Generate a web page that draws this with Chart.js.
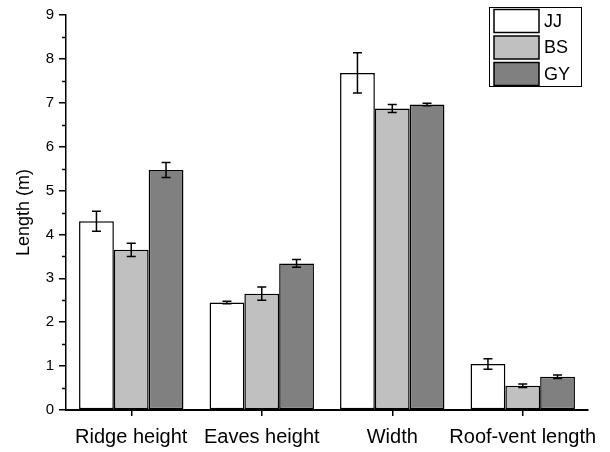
<!DOCTYPE html>
<html>
<head>
<meta charset="utf-8">
<script src="https://cdn.jsdelivr.net/npm/chart.js@4/dist/chart.umd.min.js"></script>
<style>
  html, body { margin: 0; padding: 0; background: #fff; }
  #wrap { width: 610px; height: 452px; }
</style>
</head>
<body>
<div id="wrap"><canvas id="c" width="610" height="452"></canvas></div>
<script>
// Greenhouse dimensions by site
const categories = ['Ridge height', 'Eaves height', 'Width', 'Roof-vent length'];
const seriesNames = ['JJ', 'BS', 'GY'];

const jjMean = [4.30, 2.45, 7.68, 1.05];
const jjErr  = [0.23, 0.03, 0.46, 0.12];
const bsMean = [3.65, 2.65, 6.87, 0.55];
const bsErr  = [0.15, 0.15, 0.09, 0.04];
const gyMean = [5.47, 3.34, 6.96, 0.76];
const gyErr  = [0.17, 0.09, 0.03, 0.04];

const fills = ['#ffffff', '#c0c0c0', '#808080'];
const FONT = "'Liberation Sans', Arial, sans-serif";

const errors = [jjErr, bsErr, gyErr];

// Error bars drawn on top of each bar
const errorBars = {
  id: 'errorBars',
  afterDatasetsDraw(chart) {
    const ctx = chart.ctx;
    const y = chart.scales.y;
    ctx.save();
    ctx.strokeStyle = '#000';
    ctx.lineWidth = 1.5;
    chart.data.datasets.forEach((ds, di) => {
      const meta = chart.getDatasetMeta(di);
      meta.data.forEach((bar, i) => {
        const v = ds.data[i], e = errors[di][i];
        const top = y.getPixelForValue(v + e);
        const bot = y.getPixelForValue(v - e);
        const half = 4.5;
        ctx.beginPath();
        ctx.moveTo(bar.x, top); ctx.lineTo(bar.x, bot);
        ctx.moveTo(bar.x - half, top); ctx.lineTo(bar.x + half, top);
        ctx.moveTo(bar.x - half, bot); ctx.lineTo(bar.x + half, bot);
        ctx.stroke();
      });
    });
    ctx.restore();
  }
};

// Minor ticks between the integer ticks on the value axis
const minorTicks = {
  id: 'minorTicks',
  afterDraw(chart) {
    const ctx = chart.ctx;
    const y = chart.scales.y;
    const left = chart.chartArea.left;
    ctx.save();
    ctx.strokeStyle = '#000';
    ctx.lineWidth = 1.5;
    for (let v = y.min + 0.5; v < y.max; v += 1) {
      const py = Math.round(y.getPixelForValue(v)) + 0.5;
      ctx.beginPath();
      ctx.moveTo(left - 4, py);
      ctx.lineTo(left, py);
      ctx.stroke();
    }
    ctx.restore();
  }
};

// Boxed legend in the upper right corner
const boxLegend = {
  id: 'boxLegend',
  afterDraw(chart) {
    const ctx = chart.ctx;
    const x0 = 489.5, y0 = 7.5, w = 92, h = 79;
    ctx.save();
    ctx.fillStyle = '#fff';
    ctx.fillRect(x0, y0, w, h);
    ctx.strokeStyle = '#000';
    ctx.lineWidth = 1;
    ctx.strokeRect(x0, y0, w, h);
    ctx.font = '18px ' + FONT;
    ctx.textBaseline = 'middle';
    chart.data.datasets.forEach((ds, i) => {
      const sy = 9.5 + i * 26.5;
      ctx.fillStyle = ds.backgroundColor;
      ctx.fillRect(494, sy, 45, 23);
      ctx.lineWidth = 1.5;
      ctx.strokeRect(494, sy, 45, 23);
      ctx.fillStyle = '#000';
      ctx.fillText(ds.label, 544, sy + 12.5);
    });
    ctx.restore();
  }
};

const means = [jjMean, bsMean, gyMean];

new Chart(document.getElementById('c'), {
  type: 'bar',
  data: {
    labels: categories,
    datasets: seriesNames.map((name, i) => ({
      label: name,
      data: means[i],
      backgroundColor: fills[i],
      borderColor: '#000',
      borderWidth: 1.5,
      borderSkipped: false,
      barPercentage: 1.0,
      categoryPercentage: 0.8
    }))
  },
  options: {
    responsive: false,
    animation: false,
    devicePixelRatio: 1,
    layout: { padding: { top: 15, right: 22, left: 0, bottom: 0 } },
    plugins: {
      legend: { display: false },
      tooltip: { enabled: false }
    },
    scales: {
      x: {
        grid: {
          drawOnChartArea: false,
          offset: false,
          tickLength: 6,
          color: '#000',
          lineWidth: 1.5
        },
        border: { color: '#000', width: 2 },
        ticks: {
          color: '#000',
          font: { family: FONT, size: 20 },
          padding: 9,
          maxRotation: 0,
          autoSkip: false
        },
        afterFit(s) { s.height = 42; }
      },
      y: {
        min: 0,
        max: 9,
        ticks: {
          stepSize: 1,
          color: '#000',
          font: { family: FONT, size: 15 },
          padding: 5
        },
        grid: {
          drawOnChartArea: false,
          tickLength: 7,
          color: '#000',
          lineWidth: 1.5
        },
        border: { color: '#000', width: 1.5 },
        title: {
          display: true,
          text: 'Length (m)',
          color: '#000',
          font: { family: FONT, size: 18 },
          padding: { top: 13, bottom: 0 }
        },
        afterFit(s) { s.width = 66; }
      }
    }
  },
  plugins: [errorBars, minorTicks, boxLegend]
});
</script>
</body>
</html>
